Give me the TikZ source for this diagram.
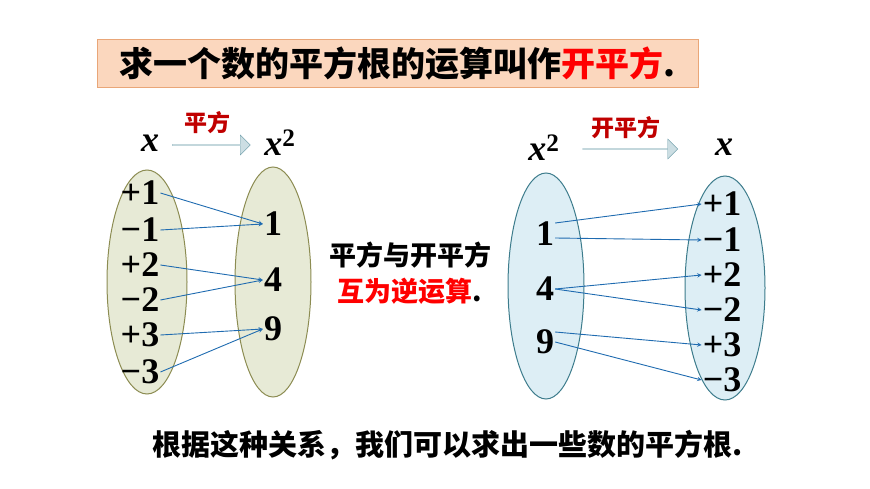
\documentclass[tikz,border=0pt]{standalone}
\usepackage{fontspec}
\usepackage{xcolor}
\setmainfont{Liberation Serif}
\newfontfamily\cjk{Noto Sans CJK SC}
\usetikzlibrary{shapes.arrows}
\definecolor{peach}{HTML}{FBD7BE}
\definecolor{peachline}{HTML}{E9A678}
\definecolor{olivefill}{HTML}{E7EAD6}
\definecolor{oliveline}{HTML}{8C8C52}
\definecolor{bluefill}{HTML}{DDEEF5}
\definecolor{blueline}{HTML}{3D7C8C}
\definecolor{arrowblue}{HTML}{1F6BB0}
\definecolor{darkred}{HTML}{C00000}
\tikzset{
  num/.style={font=\fontsize{36}{36}\selectfont\bfseries, inner sep=1pt},
  var/.style={font=\fontsize{36}{36}\selectfont\bfseries\itshape, inner sep=1pt},
  map/.style={->, >=stealth, arrowblue, line width=0.9pt},
  blockarrow/.style={single arrow, draw=blueline!70, fill=bluefill!50!blueline!45, single arrow head extend=4pt, minimum height=#1, minimum width=20pt, inner sep=0pt},
  oplabel/.style={font=\cjk\bfseries\fontsize{23}{23}\selectfont, text=darkred}
}
\begin{document}
\begin{tikzpicture}[x=1pt,y=-1pt]
\useasboundingbox (0,0) rectangle (870,489);
% title
\node[draw=peachline, fill=peach, line width=1pt, minimum width=601pt, minimum height=48pt, font=\cjk\bfseries\fontsize{34}{34}\selectfont] (title) at (397.5,64) {求一个数的平方根的运算叫作\textcolor{red}{开平方}.};
% left pair
\draw[oliveline, fill=olivefill, line width=1pt] (147,282) ellipse (40 and 112);
\draw[oliveline, fill=olivefill, line width=1pt] (273,282) ellipse (38 and 115);
\node[var] (xl) at (150,143) {x};
\node[var] (xsl) at (280,143) {x\textsuperscript{\upshape 2}};
\node[blockarrow=78pt] (al) at (211,145) {};
\node[oplabel] (tl) at (207,123) {平方};
\node[num] (lp1) at (140,193) {+1};
\node[num] (lm1) at (140,230) {−1};
\node[num] (lp2) at (140,265) {+2};
\node[num] (lm2) at (140,300) {−2};
\node[num] (lp3) at (140,335) {+3};
\node[num] (lm3) at (140,372) {−3};
\node[num] (l1) at (273,224) {1};
\node[num] (l4) at (273,280) {4};
\node[num] (l9) at (273,329) {9};
\draw[map] (lp1.east) -- (l1.west);
\draw[map] (lm1.east) -- (l1.west);
\draw[map] (lp2.east) -- (l4.west);
\draw[map] (lm2.east) -- (l4.west);
\draw[map] (lp3.east) -- (l9.west);
\draw[map] (lm3.east) -- (l9.west);
% middle
\node[font=\cjk\bfseries\fontsize{27}{27}\selectfont] (m1) at (410,255) {平方与开平方};
\node[font=\cjk\bfseries\fontsize{27}{27}\selectfont] (m2) at (410,291) {\textcolor{red}{互为逆运算}.};
% right pair
\draw[blueline, fill=bluefill, line width=1pt] (546,286) ellipse (38 and 113);
\draw[blueline, fill=bluefill, line width=1pt] (725,288) ellipse (40 and 112);
\node[var] (xsr) at (544,148) {x\textsuperscript{\upshape 2}};
\node[var] (xr) at (724,147) {x};
\node[blockarrow=95pt] (ar) at (630,149) {};
\node[oplabel] (tr) at (626,128) {开平方};
\node[num] (r1) at (545,234) {1};
\node[num] (r4) at (545,289) {4};
\node[num] (r9) at (545,342) {9};
\node[num] (rp1) at (722,204) {+1};
\node[num] (rm1) at (722,240) {−1};
\node[num] (rp2) at (722,275) {+2};
\node[num] (rm2) at (722,310) {−2};
\node[num] (rp3) at (722,345) {+3};
\node[num] (rm3) at (722,380) {−3};
\draw[map] ([yshift=11pt]r1.east) -- (rp1.west);
\draw[map] ([yshift=-4pt]r1.east) -- (rm1.west);
\draw[map] (r4.east) -- (rp2.west);
\draw[map] (r4.east) -- (rm2.west);
\draw[map] ([yshift=10pt]r9.east) -- (rp3.west);
\draw[map] (r9.east) -- (rm3.west);
% bottom
\node[font=\cjk\bfseries\fontsize{29}{29}\selectfont] (note) at (448,445) {根据这种关系，我们可以求出一些数的平方根.};
\end{tikzpicture}
\end{document}
